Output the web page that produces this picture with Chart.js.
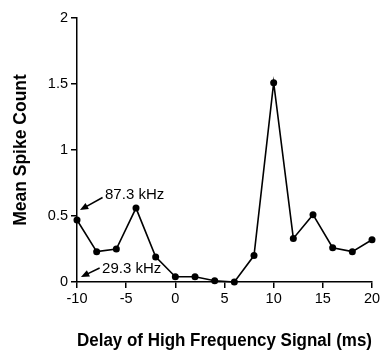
<!DOCTYPE html>
<html>
<head>
<meta charset="utf-8">
<script src="https://cdn.jsdelivr.net/npm/chart.js@4"></script>
<style>
  html, body { margin: 0; padding: 0; background: #fff; }
  #wrap { width: 388px; height: 352px; }
</style>
</head>
<body>
<div id="wrap"><canvas id="chart" width="388" height="352"></canvas></div>
<script>
// delay (ms) and mean spike count
const delays = [-10, -8, -6, -4, -2, 0, 2, 4, 6, 8, 10, 12, 14, 16, 18, 20];
const spikeCounts = [0.47, 0.23, 0.25, 0.56, 0.19, 0.04, 0.04, 0.01, 0.0, 0.2, 1.51, 0.33, 0.51, 0.26, 0.23, 0.32];

const xTicks = [-10, -5, 0, 5, 10, 15, 20];
const yTicks = [0, 0.5, 1, 1.5, 2];

// arrow labels: text, text anchor, arrow tail, arrow tip (data units)
const arrowLabels = ["87.3 kHz", "29.3 kHz"];
const arrowText = [[-7.15, 0.66], [-7.45, 0.098]];
const arrowTail = [[-7.4, 0.64], [-7.7, 0.106]];
const arrowTip = [[-9.7, 0.545], [-9.6, 0.038]];

const font = "'Liberation Sans', Arial, Helvetica, sans-serif";

const arrowPlugin = {
  id: "arrows",
  afterDatasetsDraw(chart) {
    const { ctx, scales: { x, y } } = chart;
    ctx.save();
    ctx.strokeStyle = "#000";
    ctx.fillStyle = "#000";
    ctx.lineWidth = 1.5;
    arrowLabels.forEach((label, i) => {
      const tx = x.getPixelForValue(arrowTail[i][0]);
      const ty = y.getPixelForValue(arrowTail[i][1]);
      const hx = x.getPixelForValue(arrowTip[i][0]);
      const hy = y.getPixelForValue(arrowTip[i][1]);
      const ang = Math.atan2(hy - ty, hx - tx);
      const len = 9;
      ctx.beginPath();
      ctx.moveTo(tx, ty);
      ctx.lineTo(hx - Math.cos(ang) * 5, hy - Math.sin(ang) * 5);
      ctx.stroke();
      ctx.beginPath();
      ctx.moveTo(hx, hy);
      ctx.lineTo(hx - len * Math.cos(ang - 0.4), hy - len * Math.sin(ang - 0.4));
      ctx.lineTo(hx - len * Math.cos(ang + 0.4), hy - len * Math.sin(ang + 0.4));
      ctx.closePath();
      ctx.fill();
      ctx.font = "15px " + font;
      ctx.textAlign = "left";
      ctx.textBaseline = "middle";
      ctx.fillText(label, x.getPixelForValue(arrowText[i][0]), y.getPixelForValue(arrowText[i][1]));
    });
    ctx.restore();
  }
};

new Chart(document.getElementById("chart"), {
  type: "line",
  data: {
    labels: delays,
    datasets: [{
      data: delays.map((d, i) => ({ x: d, y: spikeCounts[i] })),
      borderColor: "#000",
      backgroundColor: "#000",
      borderWidth: 1.6,
      pointRadius: 3.5,
      pointHoverRadius: 3.5,
      pointBackgroundColor: "#000",
      pointBorderWidth: 0,
      lineTension: 0,
      clip: false,
    }],
  },
  options: {
    responsive: false,
    animation: false,
    events: [],
    layout: { padding: { left: 0, right: 16, top: 18, bottom: 0 } },
    plugins: {
      legend: { display: false },
      tooltip: { enabled: false },
    },
    scales: {
      x: {
        type: "linear",
        min: -10,
        max: 20,
        afterBuildTicks: (s) => { s.ticks = xTicks.map((v) => ({ value: v })); },
        afterFit: (s) => { s.height = 70; },
        grid: { drawOnChartArea: false, color: "#000", tickLength: 6, lineWidth: 1.5 },
        border: { color: "#000", width: 1.5 },
        ticks: { color: "#000", padding: 2, maxRotation: 0, font: { family: font, size: 14.5 } },
        title: {
          display: true,
          text: "Delay of High Frequency Signal (ms)",
          color: "#000",
          padding: { top: 0, bottom: 0 },
          font: { family: font, size: 17.5, weight: "bold" },
        },
      },
      y: {
        min: 0,
        max: 2,
        afterBuildTicks: (s) => { s.ticks = yTicks.map((v) => ({ value: v })); },
        afterFit: (s) => { s.width = 77; },
        grid: { drawOnChartArea: false, color: "#000", tickLength: 6, lineWidth: 1.5 },
        border: { color: "#000", width: 1.5 },
        ticks: {
          color: "#000",
          padding: 3,
          font: { family: font, size: 14.5 },
          callback: (v) => String(v),
        },
        title: {
          display: true,
          text: "Mean Spike Count",
          color: "#000",
          padding: { top: 11, bottom: 0 },
          font: { family: font, size: 17.5, weight: "bold" },
        },
      },
    },
  },
  plugins: [arrowPlugin],
});
</script>
</body>
</html>
